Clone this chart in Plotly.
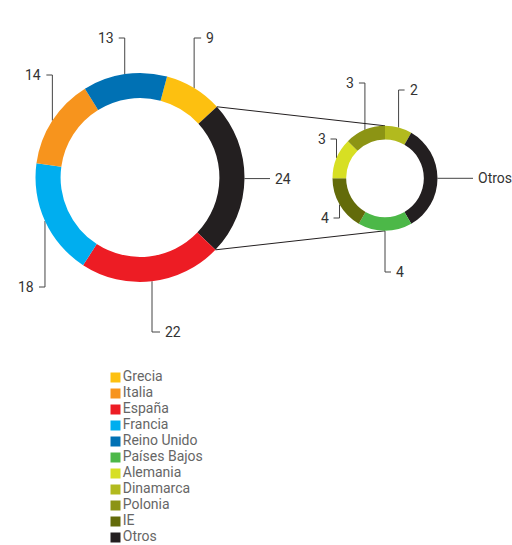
import math
import plotly.graph_objects as go

# ---------------- data ----------------
main_labels = ["Grecia", "Otros", "España", "Francia", "Italia", "Reino Unido"]
main_values = [9, 24, 22, 18, 14, 13]
main_texts = ["9", "24", "22", "18", "14", "13"]

sub_labels = ["Dinamarca", "Otros", "Países Bajos", "IE", "Alemania", "Polonia"]
sub_values = [2, 8, 4, 4, 3, 3]
sub_texts = ["2", "Otros", "4", "4", "3", "3"]

legend_labels = ["Grecia", "Italia", "España", "Francia", "Reino Unido", "Países Bajos",
                 "Alemania", "Dinamarca", "Polonia", "IE", "Otros"]

# ---------------- style ----------------
colors = {
    "Grecia": "#FDC010", "Italia": "#F7941D", "España": "#ED1C24", "Francia": "#00AEEF",
    "Reino Unido": "#0071B4", "Países Bajos": "#4CB848", "Alemania": "#D7DF23",
    "Dinamarca": "#B2BA1E", "Polonia": "#8C9414", "IE": "#636B0A", "Otros": "#231F20",
}
W, H = 512, 545
FONT = "Roboto"
LABEL_COLOR = "#333333"
LEADER_COLOR = "#444444"

MAIN = dict(cx=140, cy=177.5, r=104.5, hole=0.76, rotation=15)
SUB = dict(cx=385, cy=178.3, r=52.5, hole=0.74, rotation=0)

# leader layout: ("v", elbow_y, horizontal_tail) or ("h", end_x)
main_leaders = {
    "Grecia": ("v", 38, 7), "Reino Unido": ("v", 38, -6), "Italia": ("v", 75, -6),
    "Francia": ("v", 287, -6), "España": ("v", 332, 8), "Otros": ("h", 270),
}
sub_leaders = {
    "Dinamarca": ("v", 90, 6), "Polonia": ("v", 83, -6), "Alemania": ("v", 139, -6),
    "IE": ("v", 218, -6), "Países Bajos": ("v", 272, 6), "Otros": ("h", 473),
}


def domain(p):
    return dict(x=[(p["cx"] - p["r"]) / W, (p["cx"] + p["r"]) / W],
                y=[(H - p["cy"] - p["r"]) / H, (H - p["cy"] + p["r"]) / H])


def angles(values, rotation):
    tot = sum(values)
    out, acc = [], 0
    for v in values:
        a0 = rotation + acc / tot * 360
        acc += v
        a1 = rotation + acc / tot * 360
        out.append((a0, (a0 + a1) / 2, a1))
    return out


def pt(p, ang, r=None):
    r = p["r"] if r is None else r
    t = math.radians(ang)
    return p["cx"] + r * math.sin(t), p["cy"] - r * math.cos(t)


fig = go.Figure()

# pies
for p, labels, values in ((MAIN, main_labels, main_values), (SUB, sub_labels, sub_values)):
    fig.add_trace(go.Pie(
        labels=labels, values=values, sort=False, direction="clockwise",
        rotation=p["rotation"], hole=p["hole"], domain=domain(p),
        marker=dict(colors=[colors[l] for l in labels], line=dict(width=0)),
        textinfo="none", hoverinfo="label+value", showlegend=False,
    ))

annotations = []


def add_leaders(p, labels, values, texts, spec):
    for (a0, am, a1), lab, txt in zip(angles(values, p["rotation"]), labels, texts):
        x0, y0 = pt(p, am)
        s = spec[lab]
        if s[0] == "v":
            ey, tail = s[1], s[2]
            xs, ys = [x0, x0, x0 + tail], [y0, ey, ey]
            tx, ty = x0 + tail + (3 if tail > 0 else -3), ey
            anchor = "left" if tail > 0 else "right"
        else:
            xs, ys = [x0, s[1]], [y0, y0]
            tx, ty, anchor = s[1] + 3, y0, "left"
        fig.add_trace(go.Scatter(x=xs, y=ys, mode="lines", hoverinfo="skip", showlegend=False,
                                 line=dict(color=LEADER_COLOR, width=1)))
        annotations.append(dict(x=tx, y=ty, xref="x", yref="y", text=txt, showarrow=False,
                                xanchor=anchor, yanchor="middle",
                                font=dict(family=FONT, size=14, color=LABEL_COLOR)))


add_leaders(MAIN, main_labels, main_values, main_texts, main_leaders)
add_leaders(SUB, sub_labels, sub_values, sub_texts, sub_leaders)

# connector lines from the main "Otros" slice to the detail donut
oa = angles(main_values, MAIN["rotation"])[main_labels.index("Otros")]
sa = angles(sub_values, SUB["rotation"])
top = pt(SUB, sa[0][0])
bottom = pt(SUB, 180)
for ang, target in ((oa[0], top), (oa[2], bottom)):
    sx, sy = pt(MAIN, ang)
    fig.add_trace(go.Scatter(x=[sx, target[0]], y=[sy, target[1]], mode="lines",
                             hoverinfo="skip", showlegend=False,
                             line=dict(color="#231F20", width=1)))

# custom legend
LEG_X, LEG_Y0, LEG_DY = 115.5, 377.5, 16
fig.add_trace(go.Scatter(
    x=[LEG_X] * len(legend_labels),
    y=[LEG_Y0 + i * LEG_DY for i in range(len(legend_labels))],
    mode="markers+text", text=legend_labels, textposition="middle right",
    textfont=dict(family=FONT, size=14, color="#666666"),
    marker=dict(symbol="square", size=10, color=[colors[l] for l in legend_labels]),
    hoverinfo="skip", showlegend=False,
))

fig.update_layout(
    width=W, height=H, margin=dict(l=0, r=0, t=0, b=0),
    paper_bgcolor="white", plot_bgcolor="white",
    xaxis=dict(range=[0, W], visible=False, fixedrange=True),
    yaxis=dict(range=[H, 0], visible=False, fixedrange=True),
    annotations=annotations, showlegend=False,
)

fig.write_html("out.html", config={"displayModeBar": False},
               post_script="document.body.style.margin='0px';document.body.style.overflow='hidden';")
